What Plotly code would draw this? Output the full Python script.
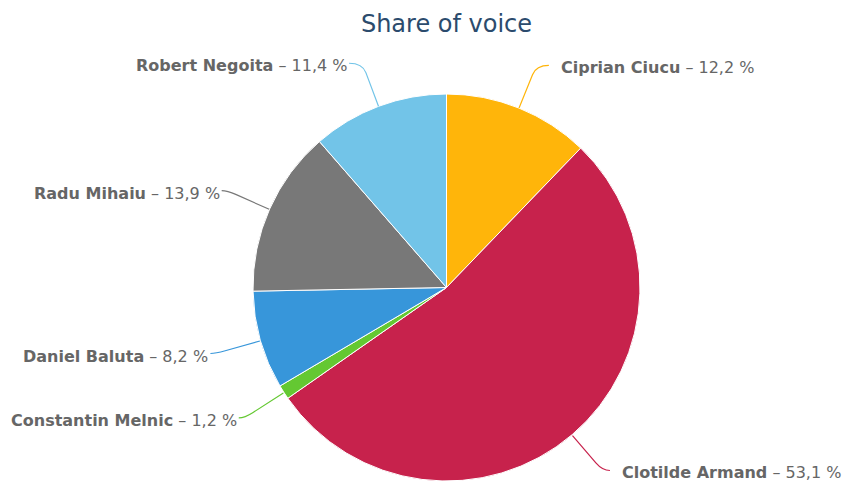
import math
import plotly.graph_objects as go

# ---- data ----
names = ["Ciprian Ciucu", "Clotilde Armand", "Constantin Melnic",
         "Daniel Baluta", "Radu Mihaiu", "Robert Negoita"]
shares = [12.2, 53.1, 1.2, 8.2, 13.9, 11.4]
colors = ["#FFB50A", "#C7224C", "#64C832", "#3796DA", "#787878", "#72C4E8"]
title_text = "Share of voice"

# ---- layout geometry (pixels) ----
W, H = 848, 481
CX, CY, R = 446.5, 288, 194
LABEL_DIST_Y = 240      # radius used for label vertical position
LABEL_DIST_X = 245      # radius of label circle for horizontal position
BREAK_DIST = 230        # connector break point radius
FONT = "DejaVu Sans, Verdana, sans-serif"


def px(x):
    return x / W


def py(y):
    return (H - y) / H


fig = go.Figure(go.Pie(
    labels=names, values=shares, sort=False, direction="clockwise",
    rotation=0, textinfo="none", hoverinfo="label+percent",
    marker=dict(colors=colors, line=dict(color="white", width=1)),
    domain=dict(x=[px(CX - R), px(CX + R)], y=[0, py(CY - R)]),
    showlegend=False,
))

total = sum(shares)
cum = 0.0
annotations = []
shapes = []
for name, v, col in zip(names, shares, colors):
    mid = (cum + v / 2) / total * 2 * math.pi
    cum += v
    s, c = math.sin(mid), math.cos(mid)
    right = s >= 0
    d = 1 if right else -1
    # touching point on slice edge
    tx, ty = CX + R * s, CY - R * c
    # break point on the ray
    bx, by = CX + BREAK_DIST * s, CY - BREAK_DIST * c
    # knee point on the ray at label height
    kx, ky = CX + LABEL_DIST_Y * s, CY - LABEL_DIST_Y * c
    # label position
    ly = ky
    dy = ly - CY
    lx = CX + d * math.sqrt(max(LABEL_DIST_X ** 2 - dy ** 2, 0))
    path = (f"M {px(lx)},{py(ly)} "
            f"Q {px(kx)},{py(ky)} {px(bx)},{py(by)} "
            f"L {px(tx)},{py(ty)}")
    shapes.append(dict(type="path", xref="paper", yref="paper", path=path,
                       line=dict(color=col, width=1.2)))
    txt = f"<b>{name}</b> – {v:.1f} %".replace(".", ",")
    annotations.append(dict(
        x=px(lx + (10 if right else 0)), y=py(ly + 2.5), xref="paper", yref="paper",
        text=txt, showarrow=False,
        xanchor="left" if right else "right", yanchor="middle",
        font=dict(family=FONT, size=16, color="#666666"),
    ))

fig.update_layout(
    width=W, height=H,
    margin=dict(l=0, r=0, t=0, b=0),
    paper_bgcolor="white", plot_bgcolor="white",
    title=dict(text=title_text, x=px(CX), xanchor="center",
               y=py(24), yanchor="middle", yref="paper",
               font=dict(family=FONT, size=24, color="#2B4B6D")),
    annotations=annotations,
    shapes=shapes,
)

fig.write_html("out.html", config={"displayModeBar": False},
               post_script="document.body.style.margin='0';document.body.style.overflow='hidden';")
